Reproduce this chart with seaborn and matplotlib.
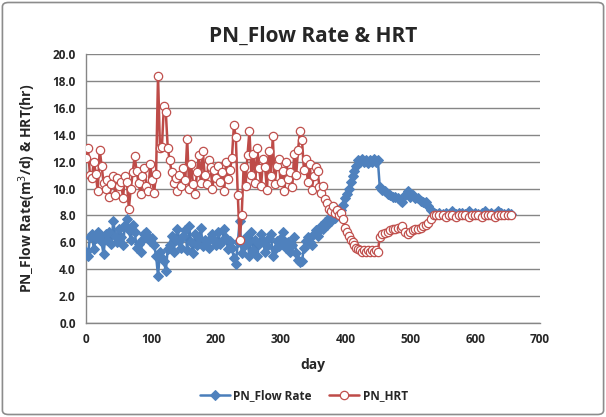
import matplotlib
matplotlib.use("Agg")

import pandas as pd
import seaborn as sns
import matplotlib.pyplot as plt
from matplotlib.patches import FancyBboxPatch

# Values (day, flow rate m3/d, HRT hr)
days = [
    0, 3, 6, 9, 12, 15, 18, 21, 24, 27,
    30, 33, 36, 39, 42, 45, 48, 51, 54, 57,
    60, 63, 66, 69, 72, 75, 78, 81, 84, 87,
    90, 93, 96, 99, 102, 105, 108, 111, 114, 117,
    120, 123, 126, 129, 132, 135, 138, 141, 144, 147,
    150, 153, 156, 159, 162, 165, 168, 171, 174, 177,
    180, 183, 186, 189, 192, 195, 198, 201, 204, 207,
    210, 213, 216, 219, 222, 225, 228, 231, 234, 237,
    240, 243, 246, 249, 252, 255, 258, 261, 264, 267,
    270, 273, 276, 279, 282, 285, 288, 291, 294, 297,
    300, 303, 306, 309, 312, 315, 318, 321, 324, 327,
    330, 333, 336, 339, 342, 345, 348, 351, 354, 357,
    360, 363, 366, 369, 372, 375, 378, 381, 384, 387,
    390, 393, 396, 399, 402, 405, 408, 411, 414, 417,
    420, 423, 426, 429, 432, 435, 438, 441, 444, 447,
    450, 453, 457, 461, 465, 469, 473, 477, 481, 485,
    488, 492, 496, 500, 504, 508, 512, 516, 520, 524,
    528, 532, 536, 540, 545, 550, 555, 560, 565, 570,
    575, 580, 585, 590, 595, 600, 605, 610, 615, 620,
    625, 630, 635, 640, 645, 650, 655,
]

flow_rate = [
    5.3, 5.0, 6.4, 6.6, 5.5, 6.3, 6.8, 6.5, 6.0, 5.1,
    6.6, 6.2, 6.8, 5.9, 7.6, 6.5, 6.0, 7.0, 6.4, 5.8,
    7.3, 7.7, 6.9, 6.2, 7.3, 6.8, 5.6, 5.9, 5.3, 6.2,
    6.6, 6.8, 6.4, 6.1, 6.3, 5.8, 5.0, 3.5, 5.3, 4.8,
    4.6, 3.9, 5.5, 5.8, 6.5, 5.3, 6.2, 7.0, 6.1, 5.6,
    6.5, 6.9, 5.4, 7.2, 6.0, 5.2, 6.6, 5.8, 6.3, 7.1,
    5.7, 6.2, 6.0, 5.6, 6.3, 6.6, 6.2, 5.8, 6.8, 5.9,
    6.1, 7.0, 6.3, 5.5, 6.1, 5.6, 4.8, 4.4, 6.0, 7.6,
    5.2, 5.7, 6.4, 6.0, 5.0, 6.8, 5.4, 6.2, 5.0, 5.9,
    6.6, 6.1, 5.3, 5.7, 6.3, 6.6, 5.0, 5.5, 6.1, 5.7,
    6.3, 6.8, 6.1, 5.6, 6.0, 5.3, 5.8, 6.4, 5.2, 4.7,
    4.5, 4.6, 5.6, 6.1, 6.4, 6.0, 5.8, 6.6, 6.9, 6.5,
    6.9, 7.2, 7.0, 7.5, 7.3, 7.8, 7.6, 8.0, 7.8, 8.1,
    8.2, 8.4, 8.8, 9.3, 9.6, 10.0, 10.5, 10.9, 11.3, 11.7,
    12.1, 12.0, 12.2, 12.0, 12.1, 11.9, 12.1, 12.0, 12.2, 12.0,
    12.1, 10.1, 9.9, 9.8, 9.6, 9.5, 9.4, 9.4, 9.3, 9.1,
    9.0, 9.5, 9.8, 9.4, 9.5, 9.3, 9.3, 9.1, 9.0, 9.0,
    8.7, 8.4, 8.2, 8.1, 8.2, 8.1, 8.2, 8.1, 8.3, 8.1,
    8.2, 8.2, 8.1, 8.3, 8.1, 8.2, 8.1, 8.2, 8.3, 8.1,
    8.2, 8.1, 8.3, 8.2, 8.1, 8.2, 8.1,
]

hrt = [
    12.3, 13.0, 11.0, 10.8, 12.0, 11.1, 9.8, 12.9, 11.7, 10.4,
    10.0, 10.6, 9.4, 10.3, 10.9, 9.5, 10.8, 10.2, 10.5, 9.3,
    10.9, 10.5, 8.5, 10.0, 11.2, 12.4, 11.3, 10.4, 9.6, 10.9,
    11.5, 10.2, 9.8, 11.8, 10.6, 9.7, 11.1, 18.4, 13.0, 13.1,
    16.1, 15.7, 13.0, 12.1, 11.2, 10.4, 10.8, 9.8, 11.0, 10.2,
    11.5, 10.6, 13.7, 10.0, 11.8, 10.3, 9.6, 11.2, 12.5, 10.4,
    12.8, 11.0, 10.3, 12.1, 11.6, 10.0, 11.4, 10.8, 11.7, 10.5,
    11.2, 9.8, 12.0, 10.7, 11.4, 12.3, 14.7, 13.8, 9.5, 6.2,
    8.0, 11.6, 10.2, 12.5, 14.3, 11.0, 12.6, 10.4, 13.0, 11.5,
    10.2, 12.2, 11.6, 9.9, 12.8, 10.9, 13.9, 10.3, 11.7, 12.2,
    10.5, 11.3, 9.8, 12.0, 10.7, 11.2, 10.1, 12.6, 11.0, 12.9,
    14.3, 13.6, 11.4, 12.2, 10.5, 11.8, 9.9, 10.9, 11.6, 11.3,
    10.1, 9.7, 10.2, 9.2, 8.9, 8.5, 8.3, 8.7, 8.2, 8.4,
    8.0, 8.2, 7.7, 7.1, 6.8, 6.5, 6.2, 6.0, 5.8, 5.6,
    5.5, 5.4, 5.3, 5.4, 5.3, 5.4, 5.3, 5.4, 5.3, 5.4,
    5.3, 6.4, 6.6, 6.7, 6.8, 6.9, 7.0, 7.0, 7.1, 7.1,
    7.2, 6.8, 6.6, 6.8, 6.9, 7.0, 7.0, 7.1, 7.2, 7.3,
    7.4, 7.7, 8.0, 8.0, 8.0, 8.0, 7.9, 8.0, 8.0, 7.9,
    8.0, 8.0, 8.0, 7.9, 8.0, 8.0, 8.0, 7.9, 8.0, 8.0,
    8.0, 7.9, 8.0, 8.0, 8.0, 8.0, 8.0,
]

df = pd.DataFrame({"day": days, "flow": flow_rate, "hrt": hrt})

sns.set_style("white")
plt.rcParams["font.family"] = ["Open Sans", "DejaVu Sans"]

fig = plt.figure(figsize=(6.06, 4.17), dpi=100)
ax = fig.add_axes([0.142, 0.2254, 0.749, 0.645])

# chart area border
fig.patches.append(FancyBboxPatch((0.004, 0.006), 0.992, 0.988,
                                  boxstyle="round,pad=0,rounding_size=0.01",
                                  transform=fig.transFigure, fill=False,
                                  edgecolor="#8c8c8c", linewidth=1.2))

sns.lineplot(data=df, x="day", y="flow", ax=ax, color="#4a7ebb", linewidth=1.8,
             marker="D", markersize=5, markerfacecolor="#4f81bd",
             markeredgecolor="#4f81bd", label="PN_Flow Rate", zorder=3)
sns.lineplot(data=df, x="day", y="hrt", ax=ax, color="#be4b48", linewidth=1.8,
             marker="o", markersize=6, markerfacecolor="white",
             markeredgecolor="#c0504d", markeredgewidth=0.9,
             label="PN_HRT", zorder=4)

ax.set_xlim(0, 700)
ax.set_ylim(0, 20)
ax.set_xticks(range(0, 701, 100))
ax.set_yticks([i * 2 for i in range(11)])
ax.set_yticklabels([f"{i * 2:.1f}" for i in range(11)])
ax.yaxis.grid(True, color="#868686", linewidth=1)
ax.set_axisbelow(True)

for side in ["top", "right"]:
    ax.spines[side].set_visible(False)
for side in ["left", "bottom"]:
    ax.spines[side].set_color("#868686")
    ax.spines[side].set_linewidth(1)

ax.tick_params(axis="both", length=4, color="#868686", labelsize=8.5)
for lbl in ax.get_xticklabels() + ax.get_yticklabels():
    lbl.set_fontweight("bold")

ax.set_title("PN_Flow Rate & HRT", fontsize=15, fontweight="bold", pad=9)
ax.set_xlabel("day", fontsize=10, fontweight="bold", labelpad=8)
ax.set_ylabel("PN_Flow Rate(m$^3$/d) & HRT(hr)", fontsize=10, fontweight="bold", labelpad=10)

ax.legend(loc="upper center", bbox_to_anchor=(0.48, -0.205), ncol=2, frameon=False,
          prop={"weight": "bold", "size": 8.5}, handlelength=2.5,
          columnspacing=1.5, handletextpad=0.3)

plt.savefig("out.png", dpi=100)
plt.close()
